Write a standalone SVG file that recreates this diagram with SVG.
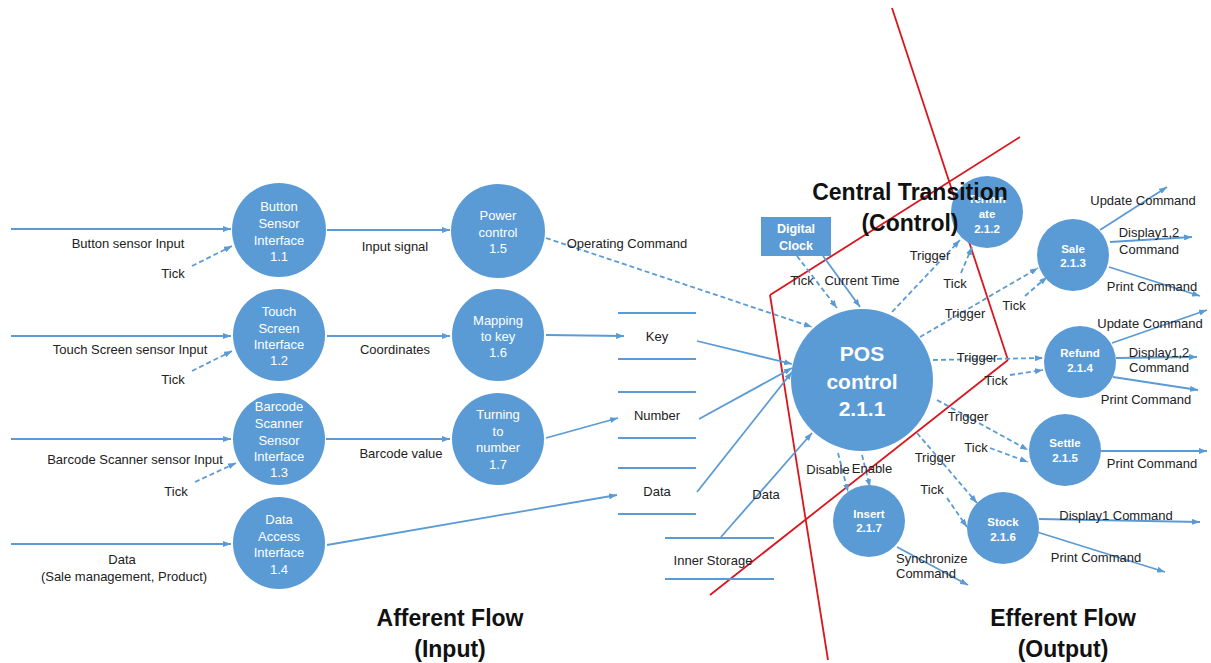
<svg xmlns="http://www.w3.org/2000/svg" width="1211" height="663" viewBox="0 0 1211 663">
<defs>
<marker id="ar" markerUnits="userSpaceOnUse" markerWidth="8" markerHeight="6" refX="8" refY="3" orient="auto"><path d="M0,0 L8,3 L0,6 z" fill="#5b9bd5"/></marker>
<style>
.s{stroke:#5b9bd5;stroke-width:1.8;fill:none}
.d{stroke:#5b9bd5;stroke-width:1.8;fill:none;stroke-dasharray:5,3}
.st{stroke:#5b9bd5;stroke-width:1.8}
.red{stroke:#d9161d;stroke-width:1.8;fill:none}
.n{fill:#5b9bd5}
.t{font-family:"Liberation Sans",Arial,sans-serif;font-size:13px;fill:#222;text-anchor:middle}
.w{font-family:"Liberation Sans",Arial,sans-serif;font-size:13px;fill:#fff;text-anchor:middle}
.wb{font-family:"Liberation Sans",Arial,sans-serif;font-size:11.5px;font-weight:bold;fill:#fff;text-anchor:middle}
.pos{font-family:"Liberation Sans",Arial,sans-serif;font-size:21px;font-weight:bold;fill:#fff;text-anchor:middle}
.h{font-family:"Liberation Sans",Arial,sans-serif;font-size:23px;font-weight:bold;fill:#111;text-anchor:middle}
</style>
</defs>
<rect width="1211" height="663" fill="#fff"/>
<g id="boundary">
<line class="red" x1="892" y1="8" x2="1008" y2="360"/>
<line class="red" x1="1020" y1="137" x2="770" y2="295"/>
<line class="red" x1="770" y1="295" x2="828" y2="660"/>
<line class="red" x1="1008" y1="360" x2="710" y2="595"/>
</g>
<g id="connectors">
<g marker-end="url(#ar)">
<line class="s" x1="11" y1="229" x2="231" y2="229"/>
<line class="s" x1="11" y1="336" x2="231" y2="336"/>
<line class="s" x1="11" y1="439" x2="231" y2="439"/>
<line class="s" x1="11" y1="544" x2="231" y2="544"/>
<line class="s" x1="327" y1="230" x2="450" y2="230"/>
<line class="s" x1="327" y1="336" x2="450" y2="336"/>
<line class="s" x1="326" y1="439" x2="450" y2="439"/>
<line class="s" x1="327" y1="545" x2="617" y2="495"/>
<line class="s" x1="546" y1="335" x2="624" y2="336"/>
<line class="s" x1="546" y1="438" x2="618" y2="418"/>
<line class="s" x1="697" y1="341" x2="792" y2="364"/>
<line class="s" x1="699" y1="419" x2="792" y2="368"/>
<line class="s" x1="697" y1="492" x2="792" y2="372"/>
<line class="s" x1="721" y1="537" x2="812" y2="433"/>
<line class="s" x1="823" y1="256" x2="860" y2="307"/>
<line class="s" x1="897" y1="547" x2="968" y2="585"/>
<line class="s" x1="1039" y1="519" x2="1200" y2="522"/>
<line class="s" x1="1037" y1="532" x2="1165" y2="572"/>
<line class="s" x1="1101" y1="451" x2="1207" y2="451"/>
<line class="s" x1="1100" y1="230" x2="1167" y2="187"/>
<line class="s" x1="1110" y1="242" x2="1192" y2="237"/>
<line class="s" x1="1109" y1="267" x2="1200" y2="296"/>
<line class="s" x1="1112" y1="343" x2="1207" y2="310"/>
<line class="s" x1="1116" y1="358" x2="1197" y2="357"/>
<line class="s" x1="1113" y1="377" x2="1198" y2="390"/>
<line class="d" x1="192" y1="266" x2="232" y2="246"/>
<line class="d" x1="192" y1="371" x2="232" y2="351"/>
<line class="d" x1="195" y1="482" x2="236" y2="463"/>
<line class="d" x1="546" y1="238" x2="812" y2="327"/>
<line class="d" x1="797" y1="256" x2="837" y2="308"/>
<line class="d" x1="892" y1="312" x2="960" y2="240"/>
<line class="d" x1="961" y1="273" x2="972" y2="247"/>
<line class="d" x1="920" y1="337" x2="1038" y2="268"/>
<line class="d" x1="1025" y1="296" x2="1047" y2="277"/>
<line class="d" x1="933" y1="360" x2="1043" y2="358"/>
<line class="d" x1="1010" y1="375" x2="1043" y2="370"/>
<line class="d" x1="937" y1="400" x2="1028" y2="450"/>
<line class="d" x1="990" y1="448" x2="1028" y2="462"/>
<line class="d" x1="917" y1="433" x2="977" y2="503"/>
<line class="d" x1="947" y1="498" x2="967" y2="527"/>
<line class="d" x1="838" y1="453" x2="848" y2="492"/>
<line class="d" x1="862" y1="455" x2="870" y2="487"/>
</g>
<text class="t" x="128" y="247.5">Button sensor Input</text>
<text class="t" x="173" y="277.5">Tick</text>
<text class="t" x="130" y="353.5">Touch Screen sensor Input</text>
<text class="t" x="173" y="383.5">Tick</text>
<text class="t" x="135" y="463.5">Barcode Scanner sensor Input</text>
<text class="t" x="176" y="495.5">Tick</text>
<text class="t" x="122" y="563.5">Data</text>
<text class="t" x="124" y="580.5">(Sale management, Product)</text>
<text class="t" x="395" y="250.5">Input signal</text>
<text class="t" x="395" y="354">Coordinates</text>
<text class="t" x="401" y="457.5">Barcode value</text>
<text class="t" x="627" y="247.5">Operating Command</text>
<text class="t" x="766" y="498.5">Data</text>
<text class="t" x="802" y="284.5">Tick</text>
<text class="t" x="862" y="284.5">Current Time</text>
<text class="t" x="930" y="259.5">Trigger</text>
<text class="t" x="955" y="287.5">Tick</text>
<text class="t" x="965" y="317.5">Trigger</text>
<text class="t" x="1014" y="309.5">Tick</text>
<text class="t" x="977" y="361.5">Trigger</text>
<text class="t" x="996" y="384.5">Tick</text>
<text class="t" x="968" y="420.5">Trigger</text>
<text class="t" x="976" y="451.5">Tick</text>
<text class="t" x="935" y="461.5">Trigger</text>
<text class="t" x="932" y="493.5">Tick</text>
<text class="t" x="828" y="473.5">Disable</text>
<text class="t" x="872" y="472.5">Enable</text>
<text class="t" x="896" y="562.5" style="text-anchor:start">Synchronize</text>
<text class="t" x="896" y="577.5" style="text-anchor:start">Command</text>
<text class="t" x="1116" y="519.5">Display1 Command</text>
<text class="t" x="1096" y="561.5">Print Command</text>
<text class="t" x="1152" y="467.5">Print Command</text>
<text class="t" x="1143" y="204.5">Update Command</text>
<text class="t" x="1149" y="236.5">Display1,2</text>
<text class="t" x="1149" y="253.5">Command</text>
<text class="t" x="1152" y="290.5">Print Command</text>
<text class="t" x="1150" y="327.5">Update Command</text>
<text class="t" x="1159" y="356.5">Display1,2</text>
<text class="t" x="1159" y="371.5">Command</text>
<text class="t" x="1146" y="403.5">Print Command</text>
</g>
<g id="store-key">
<line class="st" x1="618" y1="313" x2="696" y2="313"/><line class="st" x1="618" y1="359" x2="696" y2="359"/>
<text class="t" x="657" y="340.5">Key</text>
</g>
<g id="store-number">
<line class="st" x1="618" y1="392" x2="696" y2="392"/><line class="st" x1="618" y1="438" x2="696" y2="438"/>
<text class="t" x="657" y="419.5">Number</text>
</g>
<g id="store-data">
<line class="st" x1="618" y1="468" x2="696" y2="468"/><line class="st" x1="618" y1="514" x2="696" y2="514"/>
<text class="t" x="657" y="495.5">Data</text>
</g>
<g id="store-inner">
<line class="st" x1="665" y1="538" x2="774" y2="538"/><line class="st" x1="665" y1="579" x2="774" y2="579"/>
<text class="t" x="713" y="564.5">Inner Storage</text>
</g>
<g id="n1-1"><circle class="n" cx="279" cy="230" r="47"/>
<text class="w" x="279" y="210.5">Button</text><text class="w" x="279" y="227.5">Sensor</text><text class="w" x="279" y="244.5">Interface</text><text class="w" x="279" y="260.5">1.1</text></g>
<g id="n1-2"><circle class="n" cx="279" cy="335" r="46"/>
<text class="w" x="279" y="315.5">Touch</text><text class="w" x="279" y="332.5">Screen</text><text class="w" x="279" y="348.5">Interface</text><text class="w" x="279" y="364.5">1.2</text></g>
<g id="n1-3"><circle class="n" cx="279" cy="439" r="46"/>
<text class="w" x="279" y="410.5">Barcode</text><text class="w" x="279" y="427.5">Scanner</text><text class="w" x="279" y="444.5">Sensor</text><text class="w" x="279" y="460.5">Interface</text><text class="w" x="279" y="476.5">1.3</text></g>
<g id="n1-4"><circle class="n" cx="279" cy="543" r="46"/>
<text class="w" x="279" y="523.5">Data</text><text class="w" x="279" y="540.5">Access</text><text class="w" x="279" y="556.5">Interface</text><text class="w" x="279" y="573.5">1.4</text></g>
<g id="n1-5"><circle class="n" cx="498" cy="231" r="47"/>
<text class="w" x="498" y="219.5">Power</text><text class="w" x="498" y="236.5">control</text><text class="w" x="498" y="252.5">1.5</text></g>
<g id="n1-6"><circle class="n" cx="498" cy="335" r="46"/>
<text class="w" x="498" y="324.5">Mapping</text><text class="w" x="498" y="340.5">to key</text><text class="w" x="498" y="356.5">1.6</text></g>
<g id="n1-7"><circle class="n" cx="498" cy="439" r="46"/>
<text class="w" x="498" y="418.5">Turning</text><text class="w" x="498" y="435.5">to</text><text class="w" x="498" y="451.5">number</text><text class="w" x="498" y="468.5">1.7</text></g>
<g id="clock"><rect class="n" x="761" y="217" width="70" height="39"/>
<text class="wb" x="796" y="233" style="font-size:12.5px">Digital</text><text class="wb" x="796" y="249.5" style="font-size:12.5px">Clock</text></g>
<g id="n2-1-1"><circle class="n" cx="862" cy="380" r="71"/>
<text class="pos" x="862" y="360.5">POS</text><text class="pos" x="862" y="388.5">control</text><text class="pos" x="862" y="415.5">2.1.1</text></g>
<g id="n2-1-2"><circle class="n" cx="987" cy="212" r="36"/>
<text class="wb" x="987" y="203">Termin</text><text class="wb" x="987" y="218">ate</text><text class="wb" x="987" y="233">2.1.2</text></g>
<g id="n2-1-3"><circle class="n" cx="1073" cy="255" r="36"/>
<text class="wb" x="1073" y="253">Sale</text><text class="wb" x="1073" y="267">2.1.3</text></g>
<g id="n2-1-4"><circle class="n" cx="1080" cy="362" r="36"/>
<text class="wb" x="1080" y="357">Refund</text><text class="wb" x="1080" y="372">2.1.4</text></g>
<g id="n2-1-5"><circle class="n" cx="1065" cy="450" r="36"/>
<text class="wb" x="1065" y="447">Settle</text><text class="wb" x="1065" y="462">2.1.5</text></g>
<g id="n2-1-6"><circle class="n" cx="1003" cy="528" r="36"/>
<text class="wb" x="1003" y="526">Stock</text><text class="wb" x="1003" y="541">2.1.6</text></g>
<g id="n2-1-7"><circle class="n" cx="869" cy="521" r="36"/>
<text class="wb" x="869" y="518">Insert</text><text class="wb" x="869" y="532">2.1.7</text></g>
<g id="titles">
<text class="h" x="910" y="200">Central Transition</text>
<text class="h" x="910" y="231">(Control)</text>
<text class="h" x="450" y="626">Afferent Flow</text>
<text class="h" x="450" y="657">(Input)</text>
<text class="h" x="1063" y="626">Efferent Flow</text>
<text class="h" x="1063" y="657">(Output)</text>
</g>
</svg>
